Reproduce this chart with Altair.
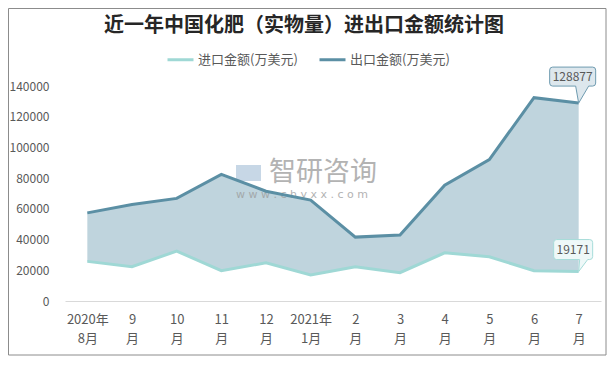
import altair as alt
import pandas as pd

FONT = "Noto Sans CJK SC"

months = ["2020年|8月", "9|月", "10|月", "11|月", "12|月", "2021年|1月",
          "2|月", "3|月", "4|月", "5|月", "6|月", "7|月"]
import_vals = [25800, 22300, 32500, 19700, 24900, 16900, 22300, 18400, 31400, 28800, 19700, 19171]
export_vals = [57400, 62900, 66800, 82400, 71500, 65700, 41600, 42900, 75400, 92100, 132400, 128877]
series_names = ["进口金额(万美元)", "出口金额(万美元)"]
series_colors = ["#9fd8d5", "#5b8fa4"]
y_ticks = [0, 20000, 40000, 60000, 80000, 100000, 120000, 140000]
title_text = "近一年中国化肥（实物量）进出口金额统计图"
wm_name = "智研咨询"
wm_url = "w w w . c h y x x . c o m"

W, H = 536, 215
PAD_L, PAD_T = 57, 78

wide = pd.DataFrame({"month": months, "imp": import_vals, "exp": export_vals})
long = pd.DataFrame({
    "month": months * 2,
    "series": [series_names[0]] * len(months) + [series_names[1]] * len(months),
    "value": import_vals + export_vals,
})
last = wide.iloc[[-1]]
one = pd.DataFrame({"a": [0]})

xscale = alt.Scale(type="point", padding=0.5)
yscale = alt.Scale(domain=[0, 140000])

x_axis = alt.Axis(title=None, labelAngle=0, labelExpr="split(datum.value, '|')",
                  labelFontSize=13, labelFont=FONT, labelColor="#595959",
                  labelLineHeight=19, labelPadding=12.5, ticks=False,
                  domainColor="#d9d9d9", domainWidth=1)
y_axis = alt.Axis(title=None, values=y_ticks, format="d", domain=False, ticks=False,
                  grid=False, labelPadding=16, labelFontSize=12, labelFont=FONT,
                  labelColor="#595959")

X = alt.X("month:N", sort=months, scale=xscale, axis=x_axis)

area = alt.Chart(wide).mark_area(color="#bfd4dd", opacity=1).encode(
    x=X,
    y=alt.Y("exp:Q", scale=yscale, axis=y_axis),
    y2="imp:Q",
)

watermark = alt.Chart(one).mark_text(
    text=wm_name, font=FONT, fontSize=27, color="#9a9a9a", opacity=0.75,
    align="center", baseline="middle"
).encode(x=alt.value(323 - 65), y=alt.value(173 - 86))
watermark2 = alt.Chart(one).mark_text(
    text=wm_url, font="DejaVu Sans", fontSize=11, color="#9a9a9a", opacity=0.75,
    align="center", baseline="middle"
).encode(x=alt.value(302 - 65), y=alt.value(195 - 86))
logo = alt.Chart(one).mark_rect(color="#b9cde0", opacity=0.8).encode(
    x=alt.value(236 - 65), x2=alt.value(261 - 65),
    y=alt.value(165 - 86), y2=alt.value(181 - 86))

lines = alt.Chart(long).mark_line(strokeWidth=3).encode(
    x=X,
    y=alt.Y("value:Q", scale=yscale, axis=y_axis),
    color=alt.Color("series:N", sort=series_names,
                    scale=alt.Scale(domain=series_names, range=series_colors),
                    legend=alt.Legend(title=None, orient="none", legendX=101, legendY=-41,
                                      direction="horizontal", symbolType="stroke",
                                      symbolSize=676, symbolStrokeWidth=3,
                                      labelFontSize=13, labelFont=FONT,
                                      labelColor="#595959", columnPadding=15,
                                      labelOffset=3, padding=0)),
)

path_e = ("M -26 -36 H 14 Q 17 -36 17 -33 V -20 Q 17 -17 14 -17 H 10 L 0 0 L -3 -17 "
          "H -26 Q -29 -17 -29 -20 V -33 Q -29 -36 -26 -36 Z")
path_i = ("M -22 -32 H 11 Q 14 -32 14 -29 V -15 Q 14 -12 11 -12 H 9 L 0 0 L 1 -12 "
          "H -22 Q -25 -12 -25 -15 V -29 Q -25 -32 -22 -32 Z")

call_e = alt.Chart(last).mark_point(shape=path_e, size=4, filled=True, fill="#dde7ed",
                                    stroke="#6e9bb0", strokeWidth=1, opacity=1).encode(
    x=X, y=alt.Y("exp:Q", scale=yscale, axis=y_axis))
call_e_t = alt.Chart(last).mark_text(dx=-6, dy=-26.5, fontSize=12, font=FONT,
                                     color="#595959").encode(
    x=X, y=alt.Y("exp:Q", scale=yscale, axis=y_axis), text="exp:Q")
call_i = alt.Chart(last).mark_point(shape=path_i, size=4, filled=True, fill="#eef8f8",
                                    stroke="#a6dcd9", strokeWidth=1, opacity=1).encode(
    x=X, y=alt.Y("imp:Q", scale=yscale, axis=y_axis))
call_i_t = alt.Chart(last).mark_text(dx=-5.5, dy=-22, fontSize=12, font=FONT,
                                     color="#595959").encode(
    x=X, y=alt.Y("imp:Q", scale=yscale, axis=y_axis), text="imp:Q")

title = alt.Chart(one).mark_text(
    text=title_text, font=FONT, fontSize=20, fontWeight="bold", color="#262626",
    align="center", baseline="middle"
).encode(x=alt.value(304 - 65), y=alt.value(25.5 - 86))

border = alt.Chart(one).mark_rect(fill="transparent", stroke="#8c8c8c", strokeWidth=1).encode(
    x=alt.value(-PAD_L + 0.5), x2=alt.value(606 - 65),
    y=alt.value(-PAD_T + 0.5), y2=alt.value(355 - 86))

chart = alt.layer(
    border, area, watermark, watermark2, logo, lines, call_e, call_e_t, call_i, call_i_t, title
).properties(
    width=W, height=H,
    padding={"left": PAD_L, "top": PAD_T, "right": 6, "bottom": 55},
    autosize=alt.AutoSizeParams(type="none"),
).configure_view(stroke=None)

chart.save("out.html", embed_options={"renderer": "svg", "actions": False})
